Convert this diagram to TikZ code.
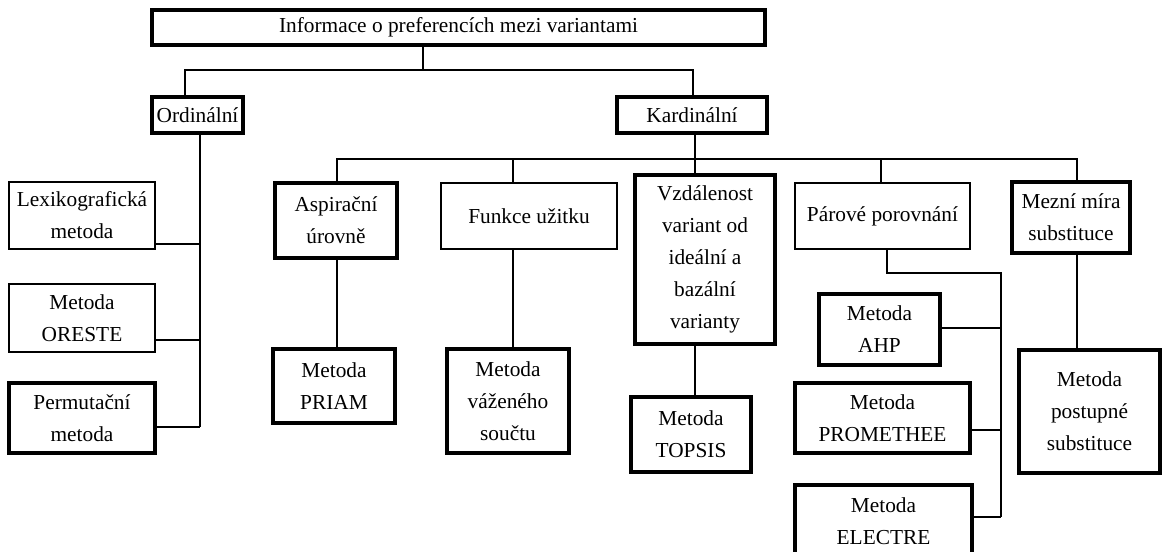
\documentclass[tikz,border=0pt]{standalone}
\usepackage{fontspec}
\setmainfont{Liberation Serif}
\usepackage{tikz}
\usetikzlibrary{calc}

\begin{document}
\begin{tikzpicture}[
    x=0.75pt, y=-0.75pt,
    every node/.style={font=\fontsize{16}{24}\selectfont},
    box/.style 2 args={
        draw,
        inner sep=0pt,
        minimum width=#1*0.75pt,
        minimum height=#2*0.75pt,
        align=center
    },
    thin/.style={line width=1.1pt},
    thick/.style={line width=2.4pt},
    link/.style={line width=1pt}
]
\useasboundingbox (0,0) rectangle (1162,552);

% top levels
\node[box={613}{35}, thick] (info) at (458.5,27.5) {Informace o preferencích mezi variantami};
\node[box={91}{36}, thick] (ord) at (197.5,115) {Ordinální};
\node[box={150}{36}, thick] (kard) at (692,115) {Kardinální};

% ordinal methods
\node[box={146}{67}, thin] (lex) at (82,215.5) {Lexikografická\\metoda};
\node[box={146}{68}, thin] (oreste) at (82,318) {Metoda\\ORESTE};
\node[box={146}{70}, thick] (perm) at (82,418) {Permutační\\metoda};

% cardinal groups
\node[box={122}{75}, thick] (asp) at (336,220.5) {Aspirační\\úrovně};
\node[box={176}{66}, thin] (funk) at (529,216) {Funkce užitku};
\node[box={140}{169}, thick] (vzd) at (705,259.5) {Vzdálenost\\variant od\\ideální a\\bazální\\varianty};
\node[box={175}{66}, thin] (par) at (882.5,216) {Párové porovnání};
\node[box={118}{71}, thick] (mez) at (1071,217.5) {Mezní míra\\substituce};

% cardinal methods
\node[box={122}{74}, thick] (priam) at (334,386) {Metoda\\PRIAM};
\node[box={122}{104}, thick] (vaz) at (508,401) {Metoda\\váženého\\součtu};
\node[box={120}{75}, thick] (topsis) at (691,434.5) {Metoda\\TOPSIS};
\node[box={121}{71}, thick] (ahp) at (879.5,329.5) {Metoda\\AHP};
\node[box={175}{70}, thick] (prom) at (882.5,418) {Metoda\\PROMETHEE};
\node[box={177}{73}, thick] (elec) at (883.5,521.5) {Metoda\\ELECTRE};
\node[box={141}{123}, thick] (post) at (1089.5,411.5) {Metoda\\postupné\\substituce};

% junctions
\coordinate (top-m) at (423,70);
\coordinate (top-o) at (185,70);
\coordinate (top-k) at (693,70);
\coordinate (o1) at (200,244);
\coordinate (o2) at (200,340);
\coordinate (o3) at (200,427);
\coordinate (k1) at (337,159);
\coordinate (k2) at (513,159);
\coordinate (k3) at (695,159);
\coordinate (k4) at (881,159);
\coordinate (k5) at (1077,159);
\coordinate (p0) at (887,273);
\coordinate (p1) at (1001,328);
\coordinate (p2) at (1001,430);
\coordinate (p3) at (1001,517);

\draw[link] (top-m |- info.south) -- (top-m);
\draw[link] (top-o |- ord.north) -- (top-o) -- (top-k) -- (top-k |- kard.north);

\draw[link] (o1 |- ord.south) -- (o3);
\draw[link] (lex.east |- o1) -- (o1);
\draw[link] (oreste.east |- o2) -- (o2);
\draw[link] (perm.east |- o3) -- (o3);

\draw[link] (k1 |- asp.north) -- (k1) -- (k5) -- (k5 |- mez.north);
\draw[link] (k3 |- kard.south) -- (k3 |- vzd.north);
\draw[link] (k2) -- (k2 |- funk.north);
\draw[link] (k4) -- (k4 |- par.north);

\draw[link] (k1 |- asp.south) -- (k1 |- priam.north);
\draw[link] (k2 |- funk.south) -- (k2 |- vaz.north);
\draw[link] (k3 |- vzd.south) -- (k3 |- topsis.north);
\draw[link] (k5 |- mez.south) -- (k5 |- post.north);

\draw[link] (p0 |- par.south) -- (p0) -| (p3);
\draw[link] (ahp.east |- p1) -- (p1);
\draw[link] (prom.east |- p2) -- (p2);
\draw[link] (elec.east |- p3) -- (p3);

\end{tikzpicture}
\end{document}
